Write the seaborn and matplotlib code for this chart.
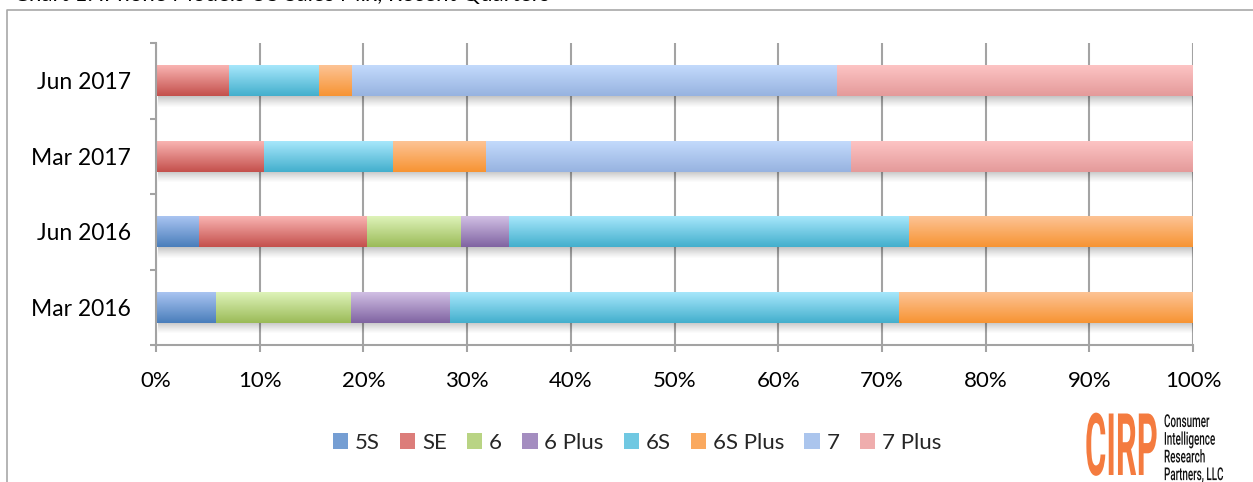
import numpy as np
import pandas as pd
import matplotlib
matplotlib.use("Agg")
import matplotlib.pyplot as plt
import seaborn as sns
from matplotlib.colors import LinearSegmentedColormap, to_rgb
from matplotlib.patches import Patch
from matplotlib.lines import Line2D
from matplotlib.patheffects import AbstractPathEffect
from matplotlib.transforms import Affine2D
from matplotlib.ticker import FuncFormatter, FixedLocator

# ---------------- data ----------------
periods = ["Jun 2017", "Mar 2017", "Jun 2016", "Mar 2016"]
models = ["5S", "SE", "6", "6 Plus", "6S", "6S Plus", "7", "7 Plus"]
share_5s = [0.0, 0.0, 4.1, 5.7]
share_se = [7.0, 10.4, 16.2, 0.0]
share_6 = [0.0, 0.0, 9.1, 13.1]
share_6plus = [0.0, 0.0, 4.6, 9.5]
share_6s = [8.7, 12.4, 38.6, 43.3]
share_6splus = [3.2, 9.0, 27.4, 28.4]
share_7 = [46.7, 35.2, 0.0, 0.0]
share_7plus = [34.4, 33.0, 0.0, 0.0]
x_ticks = [0, 10, 20, 30, 40, 50, 60, 70, 80, 90, 100]
title_text = "Chart 1: iPhone Models US Sales Mix, Recent Quarters"
logo_lines = ["Consumer", "Intelligence", "Research", "Partners, LLC"]

series = [share_5s, share_se, share_6, share_6plus, share_6s, share_6splus, share_7, share_7plus]

# gradient colours (top, bottom) per model
grad_top = ["#a9c4f1", "#f9b4b2", "#def3b9", "#d1bfe4", "#a7e7fb", "#fdc395", "#c3dafc", "#fdc4c4"]
grad_bot = ["#4a7ebb", "#c4504c", "#9bbb58", "#8064a2", "#43afcd", "#f79433", "#97b3e0", "#e49a9a"]


def mid(c1, c2):
    a, b = np.array(to_rgb(c1)), np.array(to_rgb(c2))
    return tuple(a * 0.45 + b * 0.55)


mid_colors = [mid(t, b) for t, b in zip(grad_top, grad_bot)]


class StretchY(AbstractPathEffect):
    """Stretch glyphs vertically about their baseline (condensed look)."""

    def __init__(self, sy):
        super().__init__()
        self.sy = sy

    def draw_path(self, renderer, gc, tpath, affine, rgbFace=None):
        x0, y0 = affine.transform((0, 0))
        a = affine + Affine2D().translate(-x0, -y0).scale(1, self.sy).translate(x0, y0)
        renderer.draw_path(gc, tpath, a, rgbFace)


# ---------------- figure ----------------
sns.set_theme(style="white")
plt.rcParams["font.family"] = ["Lato", "DejaVu Sans"]

W, H = 1253, 482
fig = plt.figure(figsize=(W / 100, H / 100), dpi=100)
ax = fig.add_axes([156 / W, 1 - 345 / H, (1193 - 156) / W, (345 - 43) / H])

cum = np.cumsum(np.array(series), axis=0)
draw_groups = []
for k in reversed(range(len(models))):
    df = pd.DataFrame({"period": periods, "share": cum[k]})
    n0 = len(ax.patches)
    sns.barplot(data=df, y="period", x="share", order=periods, orient="h",
                color=mid_colors[k], saturation=1, width=0.41, ax=ax, errorbar=None)
    draw_groups.append((k, ax.patches[n0:]))

grad = np.linspace(0, 1, 64).reshape(-1, 1)
z = 2.0
for gi, (k, patches) in enumerate(draw_groups):
    cmap = LinearSegmentedColormap.from_list(f"g{k}", [grad_top[k], grad_bot[k]])
    for p in patches:
        x0, y0, w, h = p.get_x(), p.get_y(), p.get_width(), p.get_height()
        p.set_facecolor("none")
        p.set_edgecolor("none")
        if gi == 0:
            # drop shadow under the full bar
            sh = np.zeros((32, 1, 4))
            sh[:, 0, 3] = np.linspace(0.32, 0.0, 32) ** 1.2
            ax.imshow(sh, extent=(x0 + 0.2, x0 + w + 0.2, y0 + h + 0.15, y0 + h - 0.01),
                      origin="upper", aspect="auto", zorder=1.5, interpolation="bilinear")
        if w <= 0:
            continue
        im = ax.imshow(grad, cmap=cmap, extent=(x0, x0 + w, y0 + h, y0), origin="upper",
                       aspect="auto", zorder=z, interpolation="bilinear")
        im.set_clip_path(p)
    z += 0.01

ax.set_xlim(0, 100)
ax.set_ylim(3.5, -0.5)
ax.set_xlabel("")
ax.set_ylabel("")

gcol = "#a3a3a3"
ax.xaxis.set_major_locator(FixedLocator(x_ticks))
ax.xaxis.set_major_formatter(FuncFormatter(lambda v, pos: f"{v:.0f}%"))
ax.grid(axis="x", color=gcol, lw=1.5)
ax.grid(axis="y", visible=False)
ax.set_axisbelow(True)
for s in ["top", "right"]:
    ax.spines[s].set_visible(False)
for s in ["left", "bottom"]:
    ax.spines[s].set_color(gcol)
    ax.spines[s].set_linewidth(1.5)

ax.tick_params(axis="x", which="major", direction="out", length=5, width=1.5,
               color=gcol, pad=14, labelsize=16, labelcolor="black", bottom=True)
ax.tick_params(axis="y", which="major", length=0, pad=18, labelsize=16.5, labelcolor="black")
ax.yaxis.set_minor_locator(FixedLocator([-0.5, 0.5, 1.5, 2.5, 3.5]))
ax.tick_params(axis="y", which="minor", direction="out", length=4.5, width=1.5,
               color=gcol, left=True)

# legend
handles = [Patch(facecolor=mid_colors[k], edgecolor="none", label=m) for k, m in enumerate(models)]
fig.legend(handles=handles, loc="center", bbox_to_anchor=(637 / W, 1 - 443 / H), ncol=8,
           frameon=False, fontsize=16, handlelength=0.7, handleheight=0.75,
           handletextpad=0.3, columnspacing=0.9, borderaxespad=0)

# outer frame (cut by the image edges)
fig.add_artist(Line2D([7 / W, 7 / W, 1.01], [-0.01, 1 - 10 / H, 1 - 10 / H],
                      transform=fig.transFigure, color="#a8a8a8", lw=1.2))

# title, mostly cut off above the image (as in the reference)
fig.text(14 / W, 1 - 1 / H, title_text, fontsize=16, va="baseline", ha="left", color="black")

# CIRP logo
fig.text(1085 / W, 1 - 475 / H, "CIRP", fontsize=23.5, fontweight="bold", family=["Roboto", "DejaVu Sans"],
         color="#f47b3f", ha="left", va="baseline", path_effects=[StretchY(2.65)])
for i, line in enumerate(logo_lines):
    fig.text(1164 / W, 1 - (427 + 17.7 * i) / H, line, fontsize=7.1, fontweight="medium",
             family=["Roboto", "DejaVu Sans"], color="#111111", ha="left", va="baseline",
             path_effects=[StretchY(1.8)])

fig.savefig("out.png", dpi=100)
